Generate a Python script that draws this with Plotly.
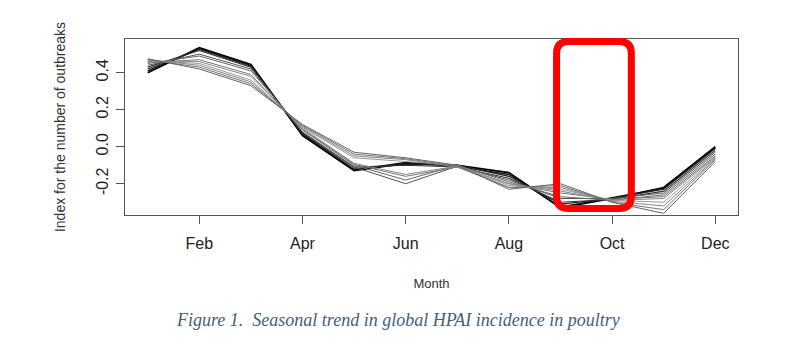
import plotly.graph_objects as go

months = list(range(1, 13))
tick_vals = [2, 4, 6, 8, 10, 12]
tick_labels = ["Feb", "Apr", "Jun", "Aug", "Oct", "Dec"]
y_ticks = [-0.2, 0.0, 0.2, 0.4]
y_tick_labels = ["-0.2", "0.0", "0.2", "0.4"]

s01 = [0.400, 0.535, 0.445, 0.060, -0.130, -0.090, -0.100, -0.140, -0.330, -0.280, -0.220, 0.000]
s02 = [0.410, 0.530, 0.440, 0.065, -0.125, -0.085, -0.105, -0.150, -0.325, -0.275, -0.225, -0.005]
s03 = [0.420, 0.525, 0.435, 0.070, -0.120, -0.095, -0.100, -0.160, -0.310, -0.280, -0.230, -0.010]
s04 = [0.430, 0.520, 0.430, 0.075, -0.110, -0.100, -0.110, -0.170, -0.300, -0.285, -0.240, -0.020]
s05 = [0.440, 0.500, 0.420, 0.080, -0.110, -0.200, -0.105, -0.180, -0.280, -0.280, -0.250, -0.030]
s06 = [0.450, 0.490, 0.410, 0.090, -0.100, -0.180, -0.100, -0.190, -0.270, -0.290, -0.260, -0.040]
s07 = [0.455, 0.470, 0.390, 0.095, -0.095, -0.160, -0.110, -0.200, -0.250, -0.285, -0.270, -0.050]
s08 = [0.460, 0.460, 0.380, 0.100, -0.090, -0.150, -0.105, -0.200, -0.240, -0.290, -0.280, -0.055]
s09 = [0.465, 0.450, 0.360, 0.105, -0.060, -0.080, -0.100, -0.210, -0.230, -0.290, -0.300, -0.060]
s10 = [0.470, 0.440, 0.350, 0.110, -0.050, -0.070, -0.110, -0.220, -0.220, -0.295, -0.320, -0.065]
s11 = [0.470, 0.430, 0.340, 0.115, -0.040, -0.065, -0.105, -0.220, -0.210, -0.300, -0.340, -0.070]
s12 = [0.475, 0.420, 0.330, 0.120, -0.030, -0.060, -0.100, -0.230, -0.200, -0.300, -0.360, -0.080]

series = [s01, s02, s03, s04, s05, s06, s07, s08, s09, s10, s11, s12]
colors = ["#000000", "#111111", "#222222", "#333333", "#555555", "#666666",
          "#777777", "#888888", "#999999", "#888888", "#777777", "#666666"]
widths = [1.6, 1.4, 1.2, 1.1, 1.0, 1.0, 1.0, 1.0, 1.0, 1.0, 1.0, 1.0]

fig = go.Figure()
for vals, c, w in zip(series, colors, widths):
    fig.add_trace(go.Scatter(x=months, y=vals, mode="lines",
                             line=dict(color=c, width=w), showlegend=False,
                             hoverinfo="skip"))

font_tick = dict(family="Liberation Sans, Arial, sans-serif", size=16, color="#222222")
font_xtitle = dict(family="Liberation Sans, Arial, sans-serif", size=13, color="#333333")
font_ytitle = dict(family="Liberation Sans, Arial, sans-serif", size=14, color="#333333")

fig.update_layout(
    width=800, height=350,
    margin=dict(l=125, r=62, t=39, b=135),
    paper_bgcolor="white", plot_bgcolor="white",
    font=font_xtitle,
    xaxis=dict(range=[0.56, 12.44], tickvals=tick_vals, ticktext=tick_labels,
               showgrid=False, zeroline=False, showline=True, mirror=True,
               linecolor="#555555", linewidth=1, ticks="outside", ticklen=8,
               tickcolor="#555555", tickfont=font_tick, ticklabelstandoff=6,
               title=dict(text="Month", font=font_xtitle, standoff=27)),
    yaxis=dict(range=[-0.369, 0.582], tickvals=y_ticks, ticktext=y_tick_labels,
               showgrid=False, zeroline=False, showline=True, mirror=True,
               linecolor="#555555", linewidth=1, ticks="outside", ticklen=8,
               tickcolor="#555555", tickfont=font_tick, tickangle=-90,
               ticklabelstandoff=2,
               title=dict(text="Index for the number of outbreaks", font=font_ytitle, standoff=24)),
)

# red rounded highlight box (paper coords)
x0, x1, y0, y1 = 0.704, 0.826, 0.037, 0.986
rx, ry = 0.0196, 0.068
path = (f"M {x0+rx},{y1} L {x1-rx},{y1} Q {x1},{y1} {x1},{y1-ry} "
        f"L {x1},{y0+ry} Q {x1},{y0} {x1-rx},{y0} L {x0+rx},{y0} "
        f"Q {x0},{y0} {x0},{y0+ry} L {x0},{y1-ry} Q {x0},{y1} {x0+rx},{y1} Z")
fig.add_shape(type="path", path=path, xref="paper", yref="paper",
              line=dict(color="#ff0000", width=7), fillcolor="rgba(0,0,0,0)")

fig.add_annotation(text="<i>Figure 1.  Seasonal trend in global HPAI incidence in poultry</i>",
                   xref="paper", yref="paper", x=(398 - 125) / 613, y=(215 - 320) / 176,
                   xanchor="center", yanchor="middle", showarrow=False,
                   font=dict(family="Liberation Serif, Times New Roman, serif", size=18,
                             color="#3f5f7f"))

fig.write_html("out.html")
